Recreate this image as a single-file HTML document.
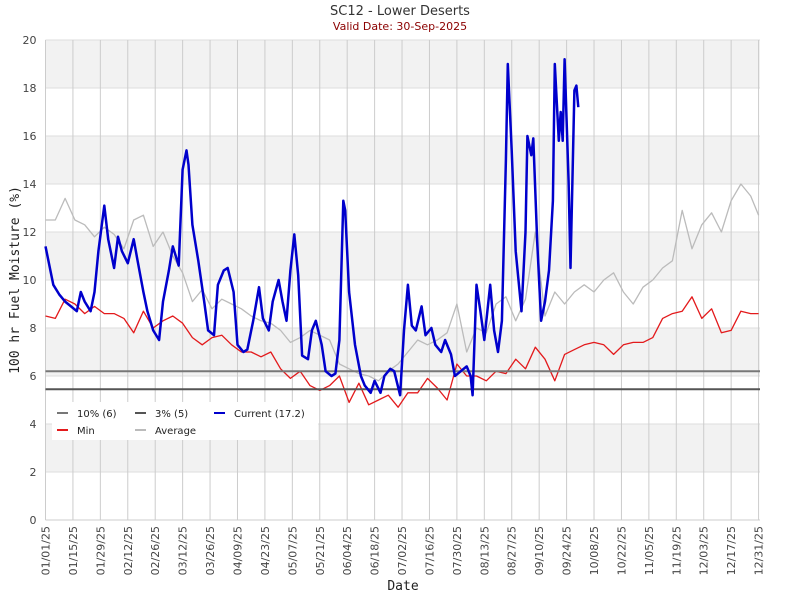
<!DOCTYPE html>
<html><head><meta charset="utf-8">
<style>
body{margin:0;background:#fff;}
svg{display:block;font-family:"DejaVu Sans","Liberation Sans",sans-serif;}
</style></head>
<body>
<svg id="chart" width="800" height="600" viewBox="0 0 800 600" xmlns="http://www.w3.org/2000/svg">
<text x="400" y="15" text-anchor="middle" font-size="13" fill="#333">SC12 - Lower Deserts</text>
<text x="400" y="30" text-anchor="middle" font-size="11" fill="#8b0000">Valid Date: 30-Sep-2025</text>
<g id="bands"></g>
<g id="grid"></g>
<g id="series"></g>
<g id="axes"></g>
<text transform="translate(19,280) rotate(-90)" text-anchor="middle" font-size="13" font-family="'DejaVu Sans Mono','Liberation Mono',monospace" fill="#222">100 hr Fuel Moisture (%)</text>
<text x="403" y="590" text-anchor="middle" font-size="13" font-family="'DejaVu Sans Mono','Liberation Mono',monospace" fill="#222">Date</text>
<g>
<rect x="52" y="402" width="266" height="38" fill="#fff"/>
<line x1="57" y1="413" x2="68" y2="413" stroke="#777" stroke-width="2"/>
<text x="77" y="417" font-size="10" fill="#222">10% (6)</text>
<line x1="135" y1="413" x2="146" y2="413" stroke="#555" stroke-width="2"/>
<text x="155" y="417" font-size="10" fill="#222">3% (5)</text>
<line x1="214" y1="413" x2="225" y2="413" stroke="#0000cc" stroke-width="2"/>
<text x="234" y="417" font-size="10" fill="#222">Current (17.2)</text>
<line x1="57" y1="430" x2="68" y2="430" stroke="#e31a1c" stroke-width="2"/>
<text x="77" y="434" font-size="10" fill="#222">Min</text>
<line x1="135" y1="430" x2="146" y2="430" stroke="#bbb" stroke-width="2"/>
<text x="155" y="434" font-size="10" fill="#222">Average</text>
</g>
</svg>
<script>
const tickLabels=["01/01/25","01/15/25","01/29/25","02/12/25","02/26/25","03/12/25","03/26/25","04/09/25","04/23/25","05/07/25","05/21/25","06/04/25","06/18/25","07/02/25","07/16/25","07/30/25","08/13/25","08/27/25","09/10/25","09/24/25","10/08/25","10/22/25","11/05/25","11/19/25","12/03/25","12/17/25","12/31/25"];
const yTicks=[0,2,4,6,8,10,12,14,16,18,20];
const pct10=6.2;
const pct3=5.45;
const curDays=[0,4,7,10,13,16,18,20,23,25,27,30,32,35,37,39,42,45,47,50,52,55,58,60,63,65,68,70,72,73,75,78,81,83,86,88,91,93,96,98,101,103,106,109,111,114,116,119,121,123,125,127,129,131,134,136,138,141,143,146,148,150,152,153,155,158,161,163,166,168,171,173,176,178,181,183,185,187,189,192,194,197,199,202,204,207,209,212,215,217,218,220,222,224,227,229,231,233,235,236,238,240,243,245,246,248,249,251,253,255,257,259,260,262,263,264,265,267,268,270,271,272];
const curVals=[11.4,9.8,9.4,9.1,8.9,8.7,9.5,9.1,8.7,9.5,11.2,13.1,11.7,10.5,11.8,11.2,10.7,11.7,10.8,9.5,8.7,7.9,7.5,9.1,10.4,11.4,10.6,14.6,15.4,14.8,12.3,10.8,9.1,7.9,7.7,9.8,10.4,10.5,9.5,7.3,7.0,7.1,8.3,9.7,8.4,7.9,9.1,10.0,9.1,8.3,10.4,11.9,10.2,6.85,6.7,7.9,8.3,7.3,6.2,6.0,6.1,7.5,13.3,12.9,9.5,7.3,6.0,5.6,5.3,5.8,5.3,6.0,6.3,6.2,5.2,7.9,9.8,8.1,7.9,8.9,7.7,8.0,7.3,7.0,7.5,6.9,6.0,6.2,6.4,6.0,5.2,9.8,8.7,7.5,9.8,7.9,7.0,8.3,15.0,19.0,15.4,11.2,8.7,12.0,16.0,15.2,15.9,11.6,8.3,9.1,10.4,13.3,19.0,15.8,17.0,15.8,19.2,14.1,10.5,17.9,18.1,17.2];
const minVals=[8.5,8.4,9.2,9.0,8.6,8.9,8.6,8.6,8.4,7.8,8.7,8.0,8.3,8.5,8.2,7.6,7.3,7.6,7.7,7.3,7.0,7.0,6.8,7.0,6.3,5.9,6.2,5.6,5.4,5.6,6.0,4.9,5.7,4.8,5.0,5.2,4.7,5.3,5.3,5.9,5.5,5.0,6.5,6.0,6.0,5.8,6.2,6.1,6.7,6.3,7.2,6.7,5.8,6.9,7.1,7.3,7.4,7.3,6.9,7.3,7.4,7.4,7.6,8.4,8.6,8.7,9.3,8.4,8.8,7.8,7.9,8.7,8.6,8.6];
const avgVals=[12.5,12.5,13.4,12.5,12.3,11.8,12.2,11.9,11.3,12.5,12.7,11.4,12.0,11.0,10.3,9.1,9.6,8.8,9.2,9.0,8.8,8.5,8.3,8.2,7.9,7.4,7.6,7.9,7.7,7.5,6.5,6.3,6.1,6.0,5.8,6.2,6.5,7.0,7.5,7.3,7.5,7.8,9.0,7.0,8.0,7.8,9.0,9.3,8.3,9.2,12.0,8.5,9.5,9.0,9.5,9.8,9.5,10.0,10.3,9.5,9.0,9.7,10.0,10.5,10.8,12.9,11.3,12.3,12.8,12.0,13.3,14.0,13.5,12.7];

const NS="http://www.w3.org/2000/svg";
const X0=45.5,PXD=1.959,Y0=520,PXU=24,XR=760;
function xScale(d){return X0+d*PXD;}
function yScale(v){return Y0-v*PXU;}
function mk(tag,attrs,parent){const e=document.createElementNS(NS,tag);for(const k in attrs)e.setAttribute(k,attrs[k]);parent.appendChild(e);return e;}
const bands=document.getElementById('bands'),grid=document.getElementById('grid'),series=document.getElementById('series'),axes=document.getElementById('axes');
for(let i=1;i<yTicks.length;i+=2){
  const r=mk('rect',{x:X0,y:yScale(yTicks[i+1]!==undefined?yTicks[i+1]:yTicks[i]),width:XR-X0,height:PXU*2,fill:'#f2f2f2'},bands);
  
  
}
yTicks.forEach(v=>{
  const l=mk('line',{x1:X0,x2:XR,y1:yScale(v),y2:yScale(v),stroke:'#ddd','stroke-width':1},grid);
  
  
  const t=mk('text',{x:X0-9,y:yScale(v)+4,'text-anchor':'end','font-size':11,fill:'#444'},axes);
  t.textContent=v;
  
  
});
tickLabels.forEach((lab,i)=>{
  const x=xScale(i*14);
  const l=mk('line',{x1:x,x2:x,y1:40,y2:Y0,stroke:'#ccc','stroke-width':1},grid);
  
  
  const t=mk('text',{transform:`translate(${x+4},${Y0+6}) rotate(-90)`,'text-anchor':'end','font-size':11,fill:'#444'},axes);
  t.textContent=lab;
  
  
});
const ax=mk('line',{x1:X0,x2:XR,y1:Y0,y2:Y0,stroke:'#ccc'},axes);


function poly(days,vals,color,w,name){
  const pts=vals.map((v,i)=>xScale(days[i]).toFixed(1)+','+yScale(v).toFixed(1)).join(' ');
  const p=mk('polyline',{points:pts,fill:'none',stroke:color,'stroke-width':w,'stroke-linejoin':'round'},series);
  
  
}
const stepDays=avgVals.map((v,i)=>Math.min(i*5,364));
poly(stepDays,avgVals,'#bbb',1.3,'average-line');
poly(stepDays,minVals,'#e31a1c',1.3,'min-line');
const l10=mk('line',{x1:X0,x2:XR,y1:yScale(pct10),y2:yScale(pct10),stroke:'#777','stroke-width':2},series);


const l3=mk('line',{x1:X0,x2:XR,y1:yScale(pct3),y2:yScale(pct3),stroke:'#555','stroke-width':2},series);


poly(curDays,curVals,'#0000cc',2.5,'current-line');
</script>
</body></html>
